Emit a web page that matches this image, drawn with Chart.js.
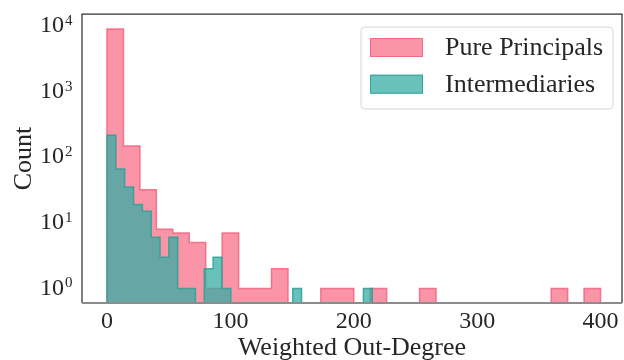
<!DOCTYPE html>
<html>
<head>
<meta charset="utf-8">
<script src="https://cdn.jsdelivr.net/npm/chart.js@4.4.0/dist/chart.umd.min.js"></script>
<style>
  html, body { margin: 0; padding: 0; background: #fff; }
  #wrap { width: 624px; height: 360px; }
</style>
</head>
<body>
<div id="wrap"><canvas id="hist"></canvas></div>
<script>
// Weighted out-degree histogram, log count axis
// Each series uses 30 equal bins between 0 and its own maximum

const seriesNames = ['Pure Principals', 'Intermediaries'];
const principalRange = [0, 400];
const intermediaryRange = [0, 215];
const principalCounts = [9000, 148, 32, 8, 7, 5, 1, 7, 1, 1, 2, 0, 0, 1, 1, 0, 1, 0, 0, 1, 0, 0, 0, 0, 0, 0, 0, 1, 0, 1];
const intermediaryCounts = [215, 66, 35, 19, 15, 6, 3, 6, 1, 1, 0, 2, 3, 1, 0, 0, 0, 0, 0, 0, 0, 1, 0, 0, 0, 0, 0, 0, 0, 1];
const xTicks = [0, 100, 200, 300, 400];
const yTicks = [1, 10, 100, 1000, 10000];

const FONT = '"Liberation Serif", "DejaVu Serif", serif';
const TEXT = '#262626';
const FLOOR = 0.1; // empty bins go below the axis and get clipped

function binEdges(range, n) {
    const step = (range[1] - range[0]) / n;
    const edges = [];
    for (let i = 0; i <= n; i++) edges.push(range[0] + i * step);
    return edges;
}

// outline of a step histogram, for stepped: 'before'
function stepPoints(range, counts) {
    const e = binEdges(range, counts.length);
    const pts = [{ x: e[0], y: FLOOR }];
    counts.forEach((c, i) => pts.push({ x: e[i], y: c || FLOOR }));
    pts.push({ x: e[counts.length], y: FLOOR });
    return pts;
}

const pink = { fill: 'rgba(247,113,137,0.75)', edge: 'rgba(240,100,128,0.85)' };
const teal = { fill: 'rgba(54,173,164,0.75)', edge: 'rgba(44,160,150,0.85)' };

const framePlugin = {
    id: 'frame',
    afterDatasetsDraw(chart) {
        const { ctx, chartArea: a } = chart;
        ctx.save();
        ctx.strokeStyle = '#333';
        ctx.lineWidth = 1.25;
        ctx.beginPath();
        ctx.moveTo(a.left, a.bottom);
        ctx.lineTo(a.left, a.top);
        ctx.lineTo(a.right, a.top);
        ctx.lineTo(a.right, a.bottom);
        ctx.stroke();
        ctx.strokeStyle = '#8c8c8c';
        ctx.lineWidth = 2;
        ctx.beginPath();
        ctx.moveTo(a.left, a.bottom);
        ctx.lineTo(a.right, a.bottom);
        ctx.stroke();
        ctx.restore();
    }
};

const labelsPlugin = {
    id: 'labels',
    afterDraw(chart) {
        const { ctx, chartArea: a } = chart;
        const ys = chart.scales.y;
        ctx.save();
        ctx.fillStyle = TEXT;
        // log tick labels with superscript exponent
        yTicks.forEach(v => {
            const y = ys.getPixelForValue(v);
            ctx.font = '24px ' + FONT;
            ctx.textAlign = 'right';
            ctx.textBaseline = 'middle';
            ctx.fillText('10', 64, y);
            ctx.font = '15px ' + FONT;
            ctx.textAlign = 'left';
            ctx.textBaseline = 'alphabetic';
            ctx.fillText(String(Math.round(Math.log10(v))), 65, y - 1);
        });
        // axis titles
        ctx.font = '26px ' + FONT;
        ctx.textAlign = 'center';
        ctx.textBaseline = 'alphabetic';
        ctx.fillText('Weighted Out-Degree', (a.left + a.right) / 2, 355);
        ctx.save();
        ctx.translate(31, (a.top + a.bottom) / 2);
        ctx.rotate(-Math.PI / 2);
        ctx.fillText('Count', 0, 0);
        ctx.restore();

        // legend box
        const bx = 361, by = 27, bw = 252, bh = 82;
        ctx.beginPath();
        ctx.roundRect(bx, by, bw, bh, 4);
        ctx.fillStyle = 'rgba(255,255,255,0.8)';
        ctx.fill();
        ctx.strokeStyle = '#d6d6d6';
        ctx.lineWidth = 1;
        ctx.stroke();
        const swatches = [pink, teal];
        seriesNames.forEach((name, i) => {
            const sy = 38 + i * 36.7;
            ctx.fillStyle = swatches[i].fill;
            ctx.fillRect(370, sy, 53, 19);
            ctx.strokeStyle = swatches[i].edge;
            ctx.lineWidth = 1;
            ctx.strokeRect(370.5, sy + 0.5, 52, 18);
            ctx.fillStyle = TEXT;
            ctx.font = '26px ' + FONT;
            ctx.textAlign = 'left';
            ctx.textBaseline = 'middle';
            ctx.fillText(name, 445, sy + 10);
        });
        ctx.restore();
    }
};

new Chart(document.getElementById('hist'), {
    type: 'line',
    data: {
        datasets: [
            {
                label: seriesNames[1],
                data: stepPoints(intermediaryRange, intermediaryCounts),
                stepped: 'before',
                fill: 'start',
                backgroundColor: teal.fill,
                borderColor: teal.edge,
                borderWidth: 1.5,
                pointRadius: 0
            },
            {
                label: seriesNames[0],
                data: stepPoints(principalRange, principalCounts),
                stepped: 'before',
                fill: 'start',
                backgroundColor: pink.fill,
                borderColor: pink.edge,
                borderWidth: 1.5,
                pointRadius: 0
            }
        ]
    },
    options: {
        responsive: true,
        maintainAspectRatio: false,
        animation: false,
        layout: { padding: { top: 14, right: 2, left: 0, bottom: 0 } },
        plugins: { legend: { display: false }, tooltip: { enabled: false } },
        scales: {
            x: {
                type: 'linear',
                min: -20.26,
                max: 417.4,
                afterBuildTicks: s => { s.ticks = xTicks.map(v => ({ value: v })); },
                afterFit: s => { s.height = 57; },
                grid: { display: false, drawTicks: false },
                border: { display: false },
                ticks: { color: TEXT, font: { family: FONT, size: 24 }, padding: 4, maxRotation: 0 }
            },
            y: {
                type: 'logarithmic',
                min: 0.635,
                max: 15200,
                afterFit: s => { s.width = 82; },
                grid: { display: false },
                border: { display: false },
                ticks: { display: false }
            }
        }
    },
    plugins: [framePlugin, labelsPlugin]
});
</script>
</body>
</html>
